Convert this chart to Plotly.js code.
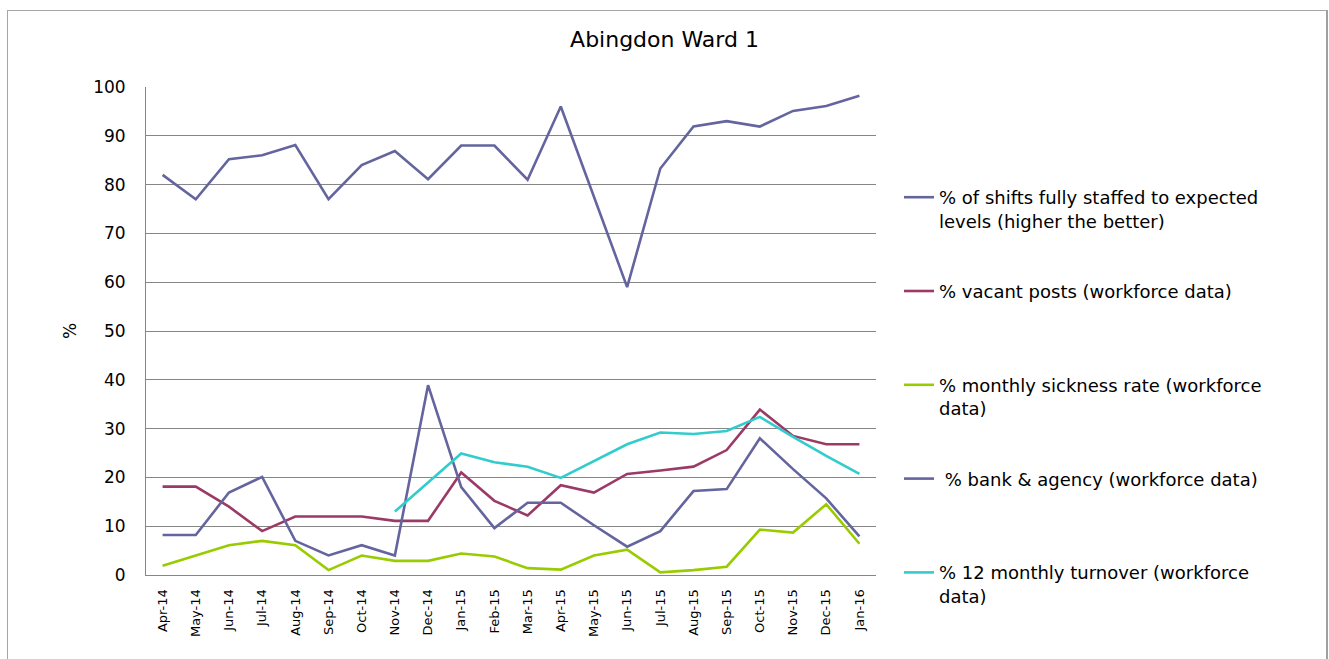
<!DOCTYPE html>
<html>
<head>
<meta charset="utf-8">
<script src="https://cdn.plot.ly/plotly-3.0.1.min.js"></script>
<style>
  html, body { margin: 0; padding: 0; background: #fff; overflow: hidden; }
  #chart { position: absolute; left: 0; top: 0; width: 1329px; height: 659px; }
  #frame { position: absolute; left: 7px; top: 10px; width: 1318px; height: 700px;
           border-top: 1px solid #a6a6a6; border-left: 1px solid #a6a6a6; border-right: 2px solid #a0a0a0;
           pointer-events: none; }
</style>
</head>
<body>
<div id="chart"></div>
<div id="frame"></div>
<script>
const months = ["Apr-14","May-14","Jun-14","Jul-14","Aug-14","Sep-14","Oct-14","Nov-14","Dec-14",
  "Jan-15","Feb-15","Mar-15","Apr-15","May-15","Jun-15","Jul-15","Aug-15","Sep-15","Oct-15",
  "Nov-15","Dec-15","Jan-16"];

const shiftsStaffed = [82, 77, 85.2, 86, 88.1, 77, 84, 86.9, 81.1, 88, 88, 81, 96, 77.5, 59,
  83.3, 91.9, 93, 91.9, 95.1, 96.1, 98.2];
const vacantPosts = [18.1, 18.1, 14, 9, 12, 12, 12, 11.1, 11.1, 21, 15.2, 12.2, 18.4, 16.9, 20.7,
  21.4, 22.2, 25.6, 33.9, 28.5, 26.8, 26.8];
const sicknessRate = [1.9, 4, 6.1, 7, 6.1, 1, 4, 2.9, 2.9, 4.4, 3.8, 1.4, 1.1, 4, 5.2,
  0.55, 1, 1.7, 9.3, 8.7, 14.5, 6.4];
const bankAgency = [8.2, 8.2, 16.9, 20.1, 7, 4, 6.1, 4, 38.9, 18, 9.6, 14.8, 14.8, 10.2, 5.8,
  9, 17.2, 17.6, 28, 21.7, 15.7, 7.9];
const turnover = [null, null, null, null, null, null, null, 13, 18.9, 24.9, 23.1, 22.2, 19.9, 23.4, 26.8,
  29.2, 28.9, 29.5, 32.4, 28.3, 24.4, 20.7];

const seriesNames = [
  "% of shifts fully staffed to expected<br>levels (higher the better)",
  "% vacant posts (workforce data)<br> ",
  "% monthly sickness rate (workforce<br>data)",
  " % bank & agency (workforce data)<br> ",
  "% 12 monthly turnover (workforce<br>data)"
];
const seriesData = [shiftsStaffed, vacantPosts, sicknessRate, bankAgency, turnover];
const seriesColors = ["#64649e", "#9b3a66", "#99cc00", "#64649e", "#33cccc"];

const traces = seriesData.map((d, i) => ({
  type: "scatter",
  mode: "lines",
  x: months,
  y: d,
  name: seriesNames[i],
  legendgroup: "g" + i,
  line: { color: seriesColors[i], width: 2.6 },
  connectgaps: false,
  hoverinfo: "x+y"
}));

const FONT = "DejaVu Sans, sans-serif";

const layout = {
  width: 1329,
  height: 659,
  margin: { l: 146, r: 453, t: 87, b: 84 },
  paper_bgcolor: "#ffffff",
  plot_bgcolor: "#ffffff",
  font: { family: FONT, color: "#000000", size: 17 },
  title: {
    text: "Abingdon Ward 1",
    font: { family: FONT, size: 22, color: "#000" },
    x: 0.5, xref: "container", xanchor: "center",
    y: 1 - 39 / 659, yref: "container", yanchor: "middle"
  },
  xaxis: {
    type: "category",
    range: [-0.5, 21.5],
    tickangle: -90,
    tickfont: { family: FONT, size: 13, color: "#000" },
    showgrid: false,
    showline: true,
    linecolor: "#868686",
    linewidth: 1,
    ticks: "",
    ticklabelstandoff: 8,
    zeroline: false,
    fixedrange: true
  },
  yaxis: {
    range: [0, 100],
    dtick: 10,
    tick0: 0,
    tickfont: { family: FONT, size: 17, color: "#000" },
    showgrid: true,
    gridcolor: "#868686",
    gridwidth: 1,
    showline: true,
    linecolor: "#868686",
    linewidth: 1,
    ticks: "",
    ticklabelstandoff: 16,
    zeroline: false,
    title: { text: "%", font: { family: FONT, size: 17, color: "#000" }, standoff: 12 },
    fixedrange: true
  },
  showlegend: true,
  legend: {
    x: (899 - 146) / 730,
    xanchor: "left",
    y: 1 - (179 - 87) / 488,
    yanchor: "top",
    traceorder: "grouped",
    tracegroupgap: 44,
    valign: "top",
    font: { family: FONT, size: 18, color: "#000" },
    bgcolor: "rgba(0,0,0,0)",
    borderwidth: 0
  }
};

Plotly.newPlot("chart", traces, layout, { displayModeBar: false, staticPlot: true });
</script>
</body>
</html>
